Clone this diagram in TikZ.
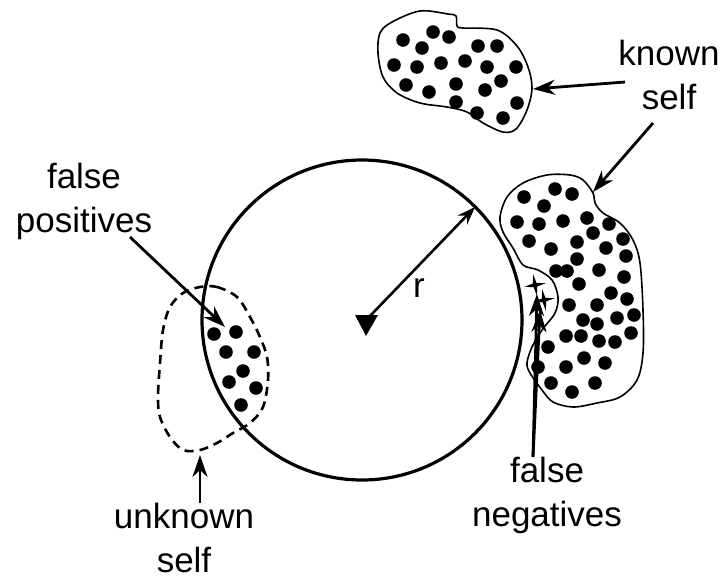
\documentclass[tikz,border=0pt]{standalone}
\usepackage{fontspec}
\setsansfont{Liberation Sans}
\usetikzlibrary{arrows.meta}

\tikzset{
  selfdot/.style={fill=black},
  outline/.style={line width=1.6pt},
  ptr/.style={line width=2.8pt, -{Stealth[length=22pt, width=15pt, inset=7pt]}},
  lbl/.style={align=center, inner sep=0pt},
  fnstar/.pic={\fill[rotate=10] (0,-11) -- (1.8,-1.8) -- (11,0) -- (1.8,1.8) -- (0,11) -- (-1.8,1.8) -- (-11,0) -- (-1.8,-1.8) -- cycle;}
}

\begin{document}
\begin{tikzpicture}[x=1pt, y=-1pt, font=\sffamily\fontsize{35}{44}\selectfont, line join=round]

    \useasboundingbox (0,0) rectangle (722,579);

    % circle of radius r around C, R is where the radius meets it
    \coordinate (C) at (362,320);
    \coordinate (R) at (475,207);

    % ==========================================
    % SELF REGIONS
    % ==========================================

    % known self, top
    \draw[outline] plot[smooth cycle, tension=0.55] coordinates {
        (380,33) (392,22) (420,11) (448,14) (456,16) (457,26) (463,28) (497,30)
        (517,46) (528,67) (532,88) (527,110) (516,129) (503,132) (483,123)
        (467,112) (447,107) (420,103) (397,93) (383,77) (378,53)};
    \foreach \p in {(403,40),(433,32),(449,37),(422,48),(478,46),(497,46),
        (394,65),(417,67),(441,63),(465,61),(487,67),(516,67),(406,85),
        (456,84),(501,81),(429,92),(485,90),(456,102),(517,103),(477,113),(503,118)}
        \fill[selfdot] \p circle (6.8pt);

    % known self, right of the circle (with the false negatives pocket)
    \draw[outline] plot[smooth cycle, tension=0.55] coordinates {
        (570,175) (583,180) (593,193) (595,203) (603,213) (620,223) (633,240)
        (640,263) (643,310) (643,353) (637,380) (620,397) (597,403) (573,407)
        (553,402) (542,390) (530,373) (527,363) (532,347) (542,330) (555,313)
        (558,297) (552,280) (538,270) (523,265) (513,248) (503,232) (500,217)
        (507,197) (523,183) (547,175)};
    \foreach \p in {(524,197),(555,189),(572,194),(544,206),(517,222),(539,224),
        (563,221),(587,218),(609,224),(593,233),(529,241),(577,242),(606,248),
        (623,239),(551,249),(626,256),(577,259),(556,271),(567,271),(599,270),
        (624,277),(579,284),(611,293),(627,299),(569,305),(597,305),(634,315),
        (617,318),(583,320),(597,324),(631,333),(566,336),(581,336),(599,341),
        (615,342),(548,347),(584,358),(605,363),(538,367),(566,367),(551,383),
        (595,383),(572,392)}
        \fill[selfdot] \p circle (6.8pt);

    % unknown self, dashed
    \draw[line width=2.6pt, dash pattern=on 9pt off 6pt] plot[smooth cycle, tension=0.55] coordinates {
        (200,287) (217,287) (237,297) (250,317) (260,337) (267,357) (268,380)
        (263,407) (250,423) (233,433) (217,443) (200,450) (183,450) (170,437)
        (160,417) (158,397) (160,363) (163,330) (170,307) (183,293)};
    \foreach \p in {(214,334),(236,332),(226,352),(254,352),(243,371),(229,382),
        (256,388),(241,405)}
        \fill[selfdot] \p circle (6.8pt);

    % ==========================================
    % CIRCLE AND RADIUS
    % ==========================================

    \draw[line width=3.2pt] (C) circle (160pt);
    \fill (355,315) -- (378,315) -- (366,336) -- cycle;
    \coordinate (Rfoot) at (370,316);
    \draw[line width=2.6pt, -{Stealth[length=18pt, width=13pt, inset=6pt]}] (Rfoot) -- (R);
    \node (rlabel) at (419,288) {r};

    % false negatives
    \pic at (535,285) {fnstar};
    \pic at (544,300) {fnstar};

    % ==========================================
    % LABELS AND ARROWS
    % ==========================================

    \node[lbl] (known) at (669,75) {known\\self};
    \node[lbl] (falsepos) at (84,201) {false\\positives};
    \node[lbl] (unknown) at (184,538) {unknown\\self};
    \node[lbl] (falseneg) at (547,495) {false\\negatives};

    \coordinate (ksA) at (625,82);   \coordinate (ksAend) at (533,89);
    \coordinate (ksB) at (653,123);  \coordinate (ksBend) at (593,192);
    \coordinate (fp) at (130,237);   \coordinate (fpend) at (225,327);
    \coordinate (us) at (200,503);   \coordinate (usend) at (200,455);
    \coordinate (fn) at (533,457);
    \coordinate (fnA) at (537,294);  \coordinate (fnB) at (540,310);

    \draw[ptr] (ksA) -- (ksAend);
    \draw[ptr] (ksB) -- (ksBend);
    \draw[ptr] (fp) -- (fpend);
    \draw[ptr] (us) -- (usend);
    \draw[ptr] (fn) -- (fnA);
    \draw[ptr] (fn) -- (fnB);

\end{tikzpicture}
\end{document}
